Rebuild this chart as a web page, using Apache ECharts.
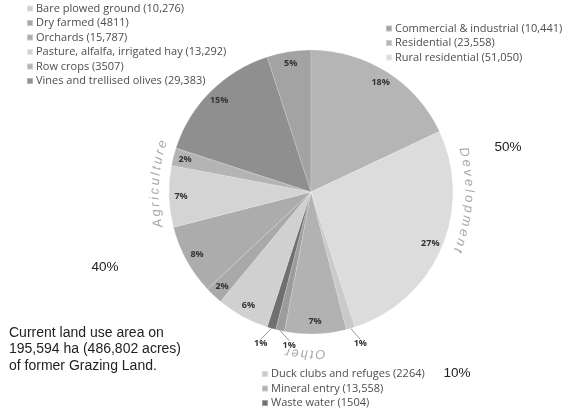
<!DOCTYPE html>
<html>
<head>
<meta charset="utf-8">
<script src="https://cdn.jsdelivr.net/npm/echarts@6/dist/echarts.min.js"></script>
<style>
  html, body { margin: 0; padding: 0; background: #fff; }
  #chart { width: 571px; height: 413px; }
</style>
</head>
<body>
<div id="chart"></div>
<script>
// Pie slices in drawing order (clockwise, starting at Commercial & industrial)
const sliceNames = [
  'Commercial & industrial', 'Residential', 'Rural residential',
  'Duck clubs and refuges', 'Mineral entry', 'Unclassified', 'Waste water',
  'Bare plowed ground', 'Dry farmed', 'Orchards',
  'Pasture, alfalfa, irrigated hay', 'Row crops', 'Vines and trellised olives'
];
const slicePercents = [5, 18, 27, 1, 7, 1, 1, 6, 2, 8, 7, 2, 15];
const sliceColors = [
  '#a3a3a3', '#b5b5b5', '#dcdcdc',
  '#cacaca', '#b2b2b2', '#9c9c9c', '#707070',
  '#d0d0d0', '#a9a9a9', '#acacac',
  '#d4d4d4', '#b4b4b4', '#8f8f8f'
];

// Legend groups with area in hectares
const agricultureNames = ['Bare plowed ground', 'Dry farmed', 'Orchards',
  'Pasture, alfalfa, irrigated hay', 'Row crops', 'Vines and trellised olives'];
const agricultureHa = ['10,276', '4811', '15,787', '13,292', '3507', '29,383'];
const developmentNames = ['Commercial & industrial', 'Residential', 'Rural residential'];
const developmentHa = ['10,441', '23,558', '51,050'];
const otherNames = ['Duck clubs and refuges', 'Mineral entry', 'Waste water'];
const otherHa = ['2264', '13,558', '1504'];

// Group shares and note
const groupShares = { development: '50%', agriculture: '40%', other: '10%' };
const noteLines = ['Current land use area on', '195,594 ha (486,802 acres)', 'of former Grazing Land.'];

const cx = 311, cy = 192, R = 142;

const haLookup = {};
agricultureNames.forEach((n, i) => haLookup[n] = agricultureHa[i]);
developmentNames.forEach((n, i) => haLookup[n] = developmentHa[i]);
otherNames.forEach((n, i) => haLookup[n] = otherHa[i]);

const pieData = sliceNames.map((n, i) => ({
  name: n, value: slicePercents[i], itemStyle: { color: sliceColors[i] }
}));

const labelData = sliceNames.map((n, i) => {
  const small = slicePercents[i] <= 1;
  return {
    name: n,
    value: slicePercents[i],
    label: small ? { position: 'outside', distanceToLabelLine: 1 } : { position: 'inside' },
    labelLine: { show: small }
  };
});

// Curved group captions: characters placed along an arc around the pie
const measureCtx = document.createElement('canvas').getContext('2d');
function arcText(str, centerDeg, radius, font, spacing, color) {
  measureCtx.font = font;
  const widths = [...str].map(c => measureCtx.measureText(c).width);
  const total = widths.reduce((a, b) => a + b, 0) + spacing * (str.length - 1);
  let pos = -total / 2;
  const els = [];
  [...str].forEach((ch, i) => {
    const mid = pos + widths[i] / 2;
    const theta = centerDeg * Math.PI / 180 + mid / radius;
    els.push({
      type: 'text',
      x: cx + radius * Math.sin(theta),
      y: cy - radius * Math.cos(theta),
      rotation: -theta,
      silent: true,
      style: { text: ch, font: font, fill: color, align: 'center', verticalAlign: 'middle' }
    });
    pos += widths[i] + spacing;
  });
  return els;
}

const arcFont = 'italic 13px "Liberation Sans", Arial, sans-serif';
const graphics = []
  .concat(arcText('Development', 93, 158, arcFont, 3, '#a8a8a8'))
  .concat(arcText('Agriculture', 273, 156, arcFont, 2.6, '#a8a8a8'))
  .concat(arcText('Other', 182, 162, arcFont, 2, '#a8a8a8'));

const shareFont = '13.5px "Liberation Sans", Arial, sans-serif';
const noteFont = '14px "Liberation Sans", Arial, sans-serif';
graphics.push(
  { type: 'text', x: 508, y: 147, silent: true,
    style: { text: groupShares.development, font: shareFont, fill: '#222', align: 'center', verticalAlign: 'middle' } },
  { type: 'text', x: 105, y: 267, silent: true,
    style: { text: groupShares.agriculture, font: shareFont, fill: '#222', align: 'center', verticalAlign: 'middle' } },
  { type: 'text', x: 457, y: 373, silent: true,
    style: { text: groupShares.other, font: shareFont, fill: '#222', align: 'center', verticalAlign: 'middle' } },
  { type: 'text', x: 9, y: 324.5, silent: true,
    style: { text: noteLines.join('\n'), font: noteFont, lineHeight: 16.5, fill: '#222', align: 'left', verticalAlign: 'top' } }
);

function legendBlock(names, left, top) {
  return {
    data: names,
    orient: 'vertical',
    left: left,
    top: top,
    padding: 0,
    height: 120,
    itemWidth: 6,
    itemHeight: 6,
    itemGap: 2.5,
    icon: 'rect',
    selectedMode: false,
    textStyle: { fontSize: 11, lineHeight: 12, color: '#4d4d4d', fontFamily: '"Open Sans", sans-serif', padding: [0, 0, 0, -2] },
    formatter: n => n + ' (' + haLookup[n] + ')'
  };
}

const chart = echarts.init(document.getElementById('chart'), null, { renderer: 'canvas' });
chart.setOption({
  animation: false,
  backgroundColor: '#fff',
  legend: [
    legendBlock(agricultureNames, 26, 2.5),
    legendBlock(developmentNames, 385, 22.5),
    legendBlock(otherNames, 261, 368)
  ],
  graphic: graphics,
  series: [
    {
      type: 'pie',
      center: [cx, cy],
      radius: [0, R],
      startAngle: 108,
      clockwise: true,
      silent: true,
      label: { show: false },
      labelLine: { show: false },
      itemStyle: { borderColor: 'rgba(255,255,255,0.35)', borderWidth: 0.5 },
      data: pieData
    },
    {
      type: 'pie',
      center: [cx, cy],
      radius: [112, R],
      startAngle: 108,
      clockwise: true,
      silent: true,
      avoidLabelOverlap: false,
      itemStyle: { color: 'rgba(0,0,0,0)' },
      label: {
        show: true,
        formatter: '{c}%',
        fontSize: 9,
        fontWeight: 'bold',
        color: '#333',
        fontFamily: '"Open Sans", sans-serif'
      },
      labelLine: { length: 11, length2: 0, lineStyle: { color: '#999', width: 1 } },
      // the middle small slice keeps its label to the right of its leader line
      labelLayout: function (params) {
        if (params.dataIndex === sliceNames.indexOf('Unclassified') && params.labelLinePoints) {
          const end = params.labelLinePoints[params.labelLinePoints.length - 1];
          return { x: end[0] + 5, y: end[1] + 4, align: 'left', verticalAlign: 'middle' };
        }
        if (slicePercents[params.dataIndex] <= 1 && params.labelLinePoints) {
          const end = params.labelLinePoints[params.labelLinePoints.length - 1];
          const right = end[0] > cx;
          return { x: end[0] + (right ? 0 : -1), y: end[1] + 5, align: right ? 'left' : 'right', verticalAlign: 'middle' };
        }
        return {};
      },
      data: labelData
    }
  ]
});
</script>
</body>
</html>
